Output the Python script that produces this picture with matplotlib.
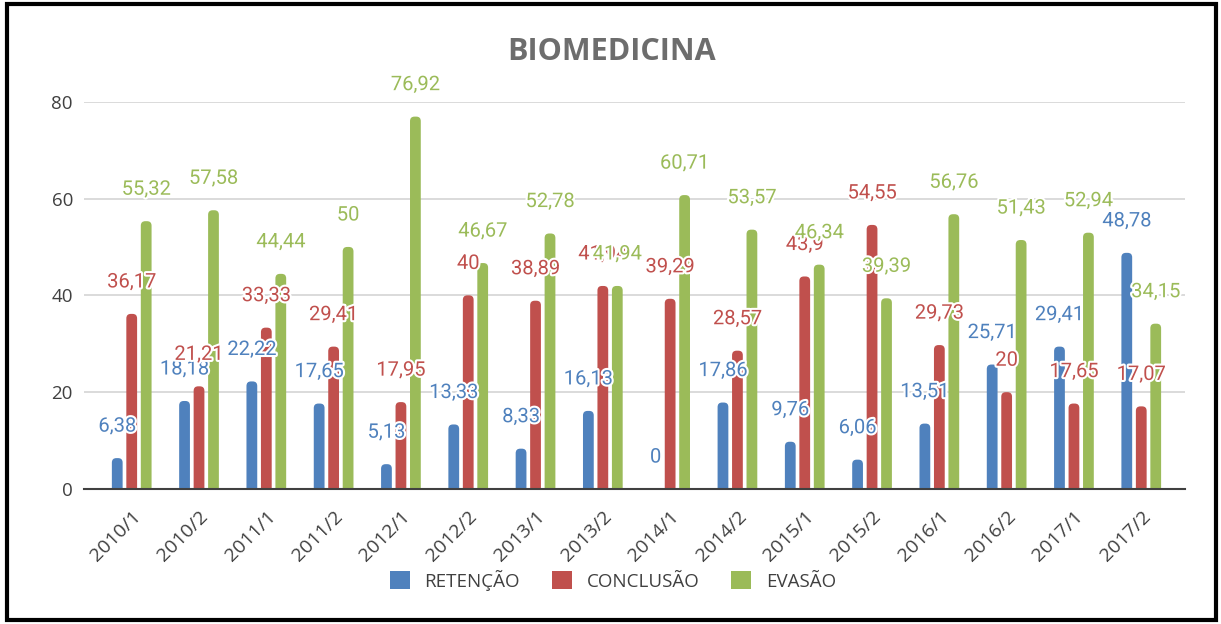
import matplotlib
matplotlib.use("Agg")
import matplotlib.pyplot as plt
import matplotlib.patheffects as pe
from matplotlib.patches import FancyBboxPatch, Rectangle
from matplotlib.transforms import ScaledTranslation
import numpy as np

periodos = ['2010/1', '2010/2', '2011/1', '2011/2', '2012/1', '2012/2', '2013/1', '2013/2',
            '2014/1', '2014/2', '2015/1', '2015/2', '2016/1', '2016/2', '2017/1', '2017/2']
retencao = [6.38, 18.18, 22.22, 17.65, 5.13, 13.33, 8.33, 16.13,
            0, 17.86, 9.76, 6.06, 13.51, 25.71, 29.41, 48.78]
conclusao = [36.17, 21.21, 33.33, 29.41, 17.95, 40, 38.89, 41.94,
             39.29, 28.57, 43.9, 54.55, 29.73, 20, 17.65, 17.07]
evasao = [55.32, 57.58, 44.44, 50, 76.92, 46.67, 52.78, 41.94,
          60.71, 53.57, 46.34, 39.39, 56.76, 51.43, 52.94, 34.15]

series = [('RETENÇÃO', retencao, '#4F81BD'),
          ('CONCLUSÃO', conclusao, '#C0504D'),
          ('EVASÃO', evasao, '#9BBB59')]

W, H = 1221, 624
fig = plt.figure(figsize=(W / 100, H / 100), dpi=100)
ax = fig.add_axes([84 / W, 1 - 489 / H, (1185 - 84) / W, (489 - 101.7) / H])

x = np.arange(len(periodos))
largura = 0.16
passo = 0.215
px_x = 67.3
px_y = (489 - 101.7) / 80

handles = []
for k, (nome, valores, cor) in enumerate(series):
    barras = ax.bar(x + (k - 1) * passo, valores, largura, color=cor, label=nome)
    handles.append(barras)
    # barras com topo arredondado
    for b in barras:
        bx, by, bw, bh = b.get_x(), b.get_y(), b.get_width(), b.get_height()
        b.set_visible(False)
        r = 4.5 / px_x
        p = FancyBboxPatch((bx, by - 2), bw, bh + 2,
                           boxstyle=f"round,pad=0,rounding_size={r}",
                           mutation_aspect=px_x / px_y,
                           facecolor=cor, edgecolor='none', zorder=2)
        ax.add_patch(p)
    for xi, v in zip(x + (k - 1) * passo, valores):
        txt = f"{v:g}".replace('.', ',')
        ax.annotate(txt, (xi, v), xytext=(0, 23), textcoords='offset points',
                    ha='center', va='center', color=cor, fontsize=14.5,
                    family='Roboto', zorder=5,
                    path_effects=[pe.withStroke(linewidth=3, foreground='white')])

ax.set_xlim(-0.709, 15.65)
ax.set_ylim(0, 80)
ax.set_yticks([0, 20, 40, 60, 80])
ax.set_xticks(x)
ax.set_xticklabels(periodos, rotation=45, ha='right', rotation_mode='anchor',
                   family='Open Sans', fontsize=14, color='#404040')
desloc = ScaledTranslation(9 / 100, 0, fig.dpi_scale_trans)
for t in ax.get_xticklabels():
    t.set_transform(t.get_transform() + desloc)
for t in ax.get_yticklabels():
    t.set_family('Open Sans')
    t.set_fontsize(13.5)
    t.set_color('#404040')
ax.tick_params(axis='both', length=0)
ax.tick_params(axis='y', pad=8)
ax.tick_params(axis='x', pad=13)
ax.grid(axis='y', color='#d4d4d4', linewidth=1.2, zorder=0)
ax.set_axisbelow(True)
for s in ['top', 'right', 'left']:
    ax.spines[s].set_visible(False)
ax.spines['bottom'].set_color('#404040')
ax.spines['bottom'].set_linewidth(1.5)

fig.text(612 / W, 1 - 52 / H, 'BIOMEDICINA', ha='center', va='center',
         fontsize=22, fontweight='bold', family='Open Sans', color='#6d6d6d')

leg = fig.legend(handles=handles, loc='center', bbox_to_anchor=(613 / W, 1 - 580 / H),
                 ncol=3, frameon=False, handlelength=1.05, handleheight=1.05,
                 columnspacing=1.7, handletextpad=0.8,
                 prop={'family': 'Open Sans', 'size': 13.5})
for t in leg.get_texts():
    t.set_color('#404040')
for h in leg.legend_handles:
    h.set_visible(True)

fig.patches.append(Rectangle((7 / W, 4 / H), (1216 - 7) / W, (620 - 4) / H,
                             transform=fig.transFigure, fill=False,
                             edgecolor='black', linewidth=3))

fig.savefig('out.png', dpi=100)
